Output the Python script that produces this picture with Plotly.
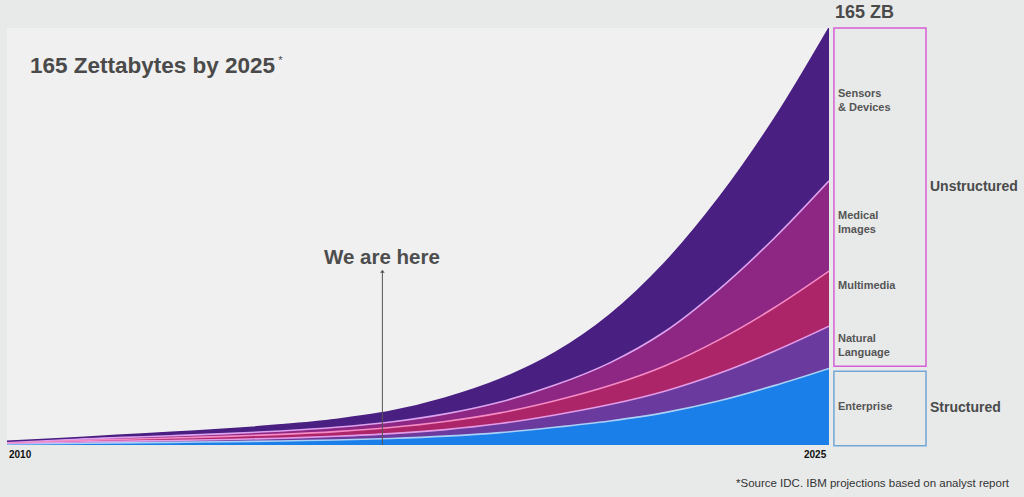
import plotly.graph_objects as go

years = list(range(2010, 2026))
enterprise = [0.40, 0.62, 0.85, 1.05, 1.3, 1.6, 2.0, 2.6, 3.5, 4.9, 7.0, 9.5, 12.8, 17.5, 23.5, 30.3]
natural_language = [0.30, 0.45, 0.6, 0.75, 0.9, 1.1, 1.45, 1.9, 2.6, 3.6, 4.9, 6.5, 8.5, 10.9, 13.6, 16.7]
multimedia = [0.35, 0.55, 0.75, 0.95, 1.2, 1.5, 1.85, 2.4, 3.2, 4.2, 5.6, 7.5, 10.0, 13.3, 17.2, 21.8]
medical_images = [0.30, 0.5, 0.7, 0.9, 1.1, 1.35, 1.7, 2.2, 3.0, 4.3, 6.2, 9.0, 13.5, 20.0, 27.5, 35.7]
sensors_devices = [0.15, 0.48, 0.9, 1.35, 1.8, 2.4, 3.1, 4.2, 6.3, 9.0, 12.8, 19.0, 27.2, 36.3, 47.2, 60.5]

series_names = ["Enterprise", "Natural Language", "Multimedia", "Medical Images", "Sensors & Devices"]
series_values = [enterprise, natural_language, multimedia, medical_images, sensors_devices]
fill_colors = ["#1B7FE9", "#6A3A9F", "#AC2569", "#8D2783", "#4A1F82"]
line_colors = ["#A9D0F7", "#E29BE6", "#F58AC4", "#DDA2EE", "#4A1F82"]

now_year = 2016.85
now_top = 68.6

fig = go.Figure()
for name, vals, fc, lc in zip(series_names, series_values, fill_colors, line_colors):
    fig.add_trace(go.Scatter(
        x=years, y=vals, name=name, stackgroup="one", mode="lines",
        line=dict(color=lc, width=1.6, shape="spline", smoothing=1.0),
        fillcolor=fc, hoverinfo="skip", showlegend=False,
    ))

# "we are here" marker line with small arrowhead
fig.add_trace(go.Scatter(
    x=[now_year, now_year], y=[0, now_top], mode="lines",
    line=dict(color="#555555", width=1), hoverinfo="skip", showlegend=False,
))
fig.add_trace(go.Scatter(
    x=[now_year], y=[now_top], mode="markers",
    marker=dict(symbol="triangle-up", size=4, color="#555555"),
    hoverinfo="skip", showlegend=False,
))

FONT = "Liberation Sans, Arial, Helvetica, sans-serif"

fig.update_layout(
    width=1024, height=497,
    margin=dict(l=7, r=195, t=28, b=52),
    paper_bgcolor="#E8EAEA",
    plot_bgcolor="#F0F0F0",
    font=dict(family=FONT),
    xaxis=dict(range=[2010, 2025], visible=False, fixedrange=True),
    yaxis=dict(range=[0, 165], visible=False, fixedrange=True),
    showlegend=False,
)

fig.add_annotation(x=now_year, y=0.451, xref="x", yref="paper", text="<b>We are here</b>",
                   showarrow=False, font=dict(size=20.5, color="#4D4D4D"), xanchor="center", yanchor="middle")

# boxes
fig.add_shape(type="rect", xref="paper", yref="paper", x0=1.006, x1=1.118, y0=0.189, y1=1.0,
              line=dict(color="#D65ED6", width=1.5), fillcolor="rgba(0,0,0,0)")
fig.add_shape(type="rect", xref="paper", yref="paper", x0=1.006, x1=1.118, y0=-0.002, y1=0.177,
              line=dict(color="#72A6D6", width=1.5), fillcolor="rgba(0,0,0,0)")

labels = [("Sensors<br>& Devices", 0.827), ("Medical<br>Images", 0.535), ("Multimedia", 0.384),
          ("Natural<br>Language", 0.240), ("Enterprise", 0.094)]
for txt, yy in labels:
    fig.add_annotation(x=1.008, y=yy, xref="paper", yref="paper", text="<b>" + txt + "</b>",
                       showarrow=False, xanchor="left", yanchor="middle", align="left",
                       font=dict(size=11, color="#555555"))

fig.add_annotation(x=1.1205, y=0.621, xref="paper", yref="paper", text="<b>Unstructured</b>",
                   showarrow=False, xanchor="left", yanchor="middle", font=dict(size=14, color="#4A4A4A"))
fig.add_annotation(x=1.1205, y=0.091, xref="paper", yref="paper", text="<b>Structured</b>",
                   showarrow=False, xanchor="left", yanchor="middle", font=dict(size=14, color="#4A4A4A"))

fig.add_annotation(x=1.005, y=1.038, xref="paper", yref="paper", text="<b>165 ZB</b>",
                   showarrow=False, xanchor="left", yanchor="middle", font=dict(size=18, color="#4A4A4A"))

fig.add_annotation(x=0.026, y=0.909, xref="paper", yref="paper",
                   text="<b>165 Zettabytes by 2025</b><sup><span style='font-size:11px'> *</span></sup>",
                   showarrow=False, xanchor="left", yanchor="middle", font=dict(size=22.5, color="#4A4A4A"))

fig.add_annotation(x=0.0, y=-0.022, xref="paper", yref="paper", text="<b>2010</b>",
                   showarrow=False, xanchor="left", yanchor="middle", font=dict(size=10, color="#111111"))
fig.add_annotation(x=1.0, y=-0.022, xref="paper", yref="paper", text="<b>2025</b>",
                   showarrow=False, xanchor="right", yanchor="middle", font=dict(size=10, color="#111111"))

fig.add_annotation(x=1.2226, y=-0.091, xref="paper", yref="paper",
                   text="*Source IDC. IBM projections based on analyst report",
                   showarrow=False, xanchor="right", yanchor="middle", font=dict(size=11.5, color="#333333"))

fig.write_html("out.html")
